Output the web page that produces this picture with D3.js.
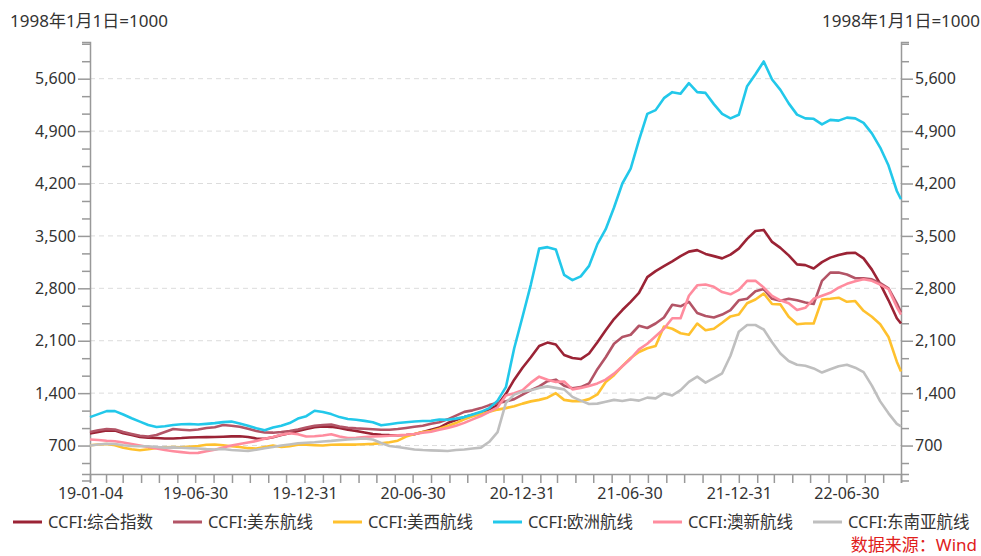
<!DOCTYPE html>
<html>
<head>
<meta charset="utf-8">
<script src="https://cdn.jsdelivr.net/npm/d3@7"></script>
<style>
  body { margin: 0; background: #fff; }
  text { font-family: "Noto Sans", "Noto Sans CJK SC", sans-serif; fill: #333; }
</style>
</head>
<body>
<div id="chart"></div>
<script>
// biweekly readings, 2019-01-04 .. 2022-09-23, plus the last week 2022-09-30
const startDate = new Date(Date.UTC(2019, 0, 4));
const endDate = new Date(Date.UTC(2022, 8, 30));
const dates = d3.range(98).map(i => d3.utcDay.offset(startDate, 14 * i)).concat([endDate]);

const seriesNames = ["CCFI:综合指数", "CCFI:美东航线", "CCFI:美西航线", "CCFI:欧洲航线", "CCFI:澳新航线", "CCFI:东南亚航线"];
const seriesColors = ["#9b2335", "#b35466", "#ffc12e", "#22c8ea", "#ff8c9e", "#bfbfbf"];

const composite = [860,880,900,900,865,840,815,805,800,795, 795,800,808,811,812,815,818,822,825,815,
  795,790,810,840,865,895,920,945,955,950, 935,910,895,875,855,845,840,838,840,850,
  880,910,940,1000,1040,1080,1110,1140,1180,1240, 1390,1580,1740,1880,2030,2075,2050,1910,1870,1855,
  1930,2080,2240,2390,2510,2620,2740,2950,3030,3095, 3160,3230,3290,3310,3260,3230,3200,3250,3330,3460,
  3565,3580,3420,3340,3240,3120,3110,3065,3150,3210, 3245,3270,3275,3200,3050,2860,2640,2400,2330];

const usEast = [880,905,920,915,880,855,830,820,840,880, 920,912,905,915,935,945,975,965,950,925,
  895,875,872,880,895,915,940,965,975,980, 955,938,930,925,918,912,912,920,935,950,
  965,990,1010,1050,1100,1150,1170,1200,1240,1270, 1290,1320,1380,1440,1490,1560,1580,1500,1465,1480,
  1530,1720,1880,2060,2150,2180,2300,2270,2330,2410, 2580,2560,2620,2470,2430,2410,2450,2510,2640,2660,
  2760,2790,2660,2635,2660,2640,2610,2590,2900,3010, 3010,2985,2935,2935,2920,2870,2800,2600,2480];

const usWest = [705,715,720,705,670,650,638,650,668,675, 680,678,685,695,710,715,705,690,680,665,
  660,680,700,680,690,710,712,705,700,710, 713,713,713,718,722,730,745,765,820,855,
  880,895,925,960,1000,1050,1090,1120,1150,1180, 1200,1225,1260,1290,1310,1340,1400,1310,1293,1293,
  1320,1383,1550,1640,1760,1870,1950,2000,2030,2290, 2260,2200,2180,2330,2240,2260,2340,2425,2450,2600,
  2650,2730,2590,2585,2420,2320,2330,2330,2650,2660, 2675,2620,2630,2500,2420,2320,2150,1820,1690];

const europe = [1080,1120,1160,1160,1115,1065,1020,975,948,958, 975,985,988,981,990,1000,1013,1020,995,965,
  930,905,940,965,1000,1060,1092,1165,1148,1120, 1080,1055,1045,1030,1012,970,985,1002,1012,1022,
  1028,1030,1048,1045,1060,1080,1115,1150,1200,1300, 1480,2000,2420,2850,3330,3350,3320,2980,2910,2960,
  3100,3390,3590,3880,4200,4400,4780,5130,5180,5340, 5420,5400,5540,5420,5410,5260,5130,5070,5118,5500,
  5660,5830,5590,5450,5270,5120,5070,5064,4990,5050, 5040,5080,5070,5010,4870,4680,4440,4100,3990];

const ausNz = [780,775,765,758,740,720,700,680,660,640, 625,612,600,602,625,645,675,700,720,740,
  760,790,815,845,865,850,820,825,835,850, 820,800,805,815,820,825,830,838,845,855,
  870,885,910,935,965,1003,1050,1095,1150,1210, 1370,1400,1440,1540,1620,1580,1550,1555,1450,1470,
  1494,1530,1580,1660,1760,1860,1985,2060,2160,2260, 2400,2400,2700,2840,2850,2820,2750,2720,2780,2900,
  2900,2810,2700,2640,2600,2510,2540,2660,2700,2740, 2810,2860,2895,2920,2900,2850,2790,2550,2450];

const seAsia = [700,715,725,720,705,695,690,690,680,672, 675,670,665,660,652,648,655,640,633,628,
  645,665,680,700,715,730,738,745,755,762, 772,780,788,795,780,735,695,680,665,648,
  640,636,632,628,640,648,660,672,750,880, 1270,1380,1420,1440,1470,1490,1470,1450,1350,1300,
  1255,1260,1285,1310,1295,1315,1300,1340,1330,1400, 1370,1440,1550,1620,1540,1600,1665,1900,2220,2310,
  2310,2250,2080,1930,1830,1780,1765,1730,1675,1720, 1760,1780,1740,1680,1500,1290,1130,990,955];

const majorTicks = [700, 1400, 2100, 2800, 3500, 4200, 4900, 5600];
const xLabelDates = ["19-01-04", "19-06-30", "19-12-31", "20-06-30", "20-12-31", "21-06-30", "21-12-31", "22-06-30"];
const unitLabel = "1998年1月1日=1000";
const sourceLabel = "数据来源：Wind";

const series = [composite, usEast, usWest, europe, ausNz, seAsia];

const width = 981, height = 556;
const margin = { left: 90, right: 80, top: 42, bottom: 82 };

const svg = d3.select("#chart").append("svg")
  .attr("width", width)
  .attr("height", height);

const x = d3.scaleUtc()
  .domain([startDate, endDate])
  .range([margin.left, width - margin.right]);

const y = d3.scaleLinear()
  .domain([320, 6090])
  .range([height - margin.bottom, margin.top]);

// minor ticks every third of a major step
const allTicks = d3.range(1, 27).map(i => i * 700 / 3);
const isMajor = v => majorTicks.some(m => Math.abs(m - v) < 1);

// grid
svg.append("g")
  .selectAll("line")
  .data(majorTicks)
  .join("line")
    .attr("x1", x.range()[0])
    .attr("x2", x.range()[1])
    .attr("y1", d => y(d))
    .attr("y2", d => y(d))
    .attr("stroke", "#dcdcdc")
    .attr("stroke-dasharray", "5,4");

const fmt = d3.format(",");

function styleAxis(g, dir) {
  g.select(".domain").attr("stroke", "#999").attr("stroke-width", 1.5);
  g.selectAll(".tick line").attr("stroke", "#999").attr("stroke-width", 1.5);
  g.selectAll(".tick text").style("font-size", "16px").attr("fill", "#333");
  g.selectAll(".tick").filter(d => isMajor(d)).select("line").attr("x2", dir * 12);
}

svg.append("g")
  .attr("transform", `translate(${x.range()[0]},0)`)
  .call(d3.axisLeft(y).tickValues(allTicks).tickSize(8).tickPadding(6)
    .tickFormat(d => isMajor(d) ? fmt(Math.round(d)) : ""))
  .call(g => styleAxis(g, -1));

svg.append("g")
  .attr("transform", `translate(${x.range()[1]},0)`)
  .call(d3.axisRight(y).tickValues(allTicks).tickSize(8).tickPadding(6)
    .tickFormat(d => isMajor(d) ? fmt(Math.round(d)) : ""))
  .call(g => styleAxis(g, 1));

// x axis: ticks at month ends
const monthEnds = d3.utcMonth.range(new Date(Date.UTC(2019, 1, 1)), new Date(Date.UTC(2022, 9, 2)))
  .map(d => d3.utcDay.offset(d, -1));
const xFmt = d3.utcFormat("%y-%m-%d");

svg.append("g")
  .attr("transform", `translate(0,${y.range()[0]})`)
  .call(d3.axisBottom(x).tickValues([startDate].concat(monthEnds)).tickSize(9).tickPadding(5)
    .tickFormat(d => xLabelDates.includes(xFmt(d)) ? xFmt(d) : ""))
  .call(g => {
    g.select(".domain").attr("stroke", "#999").attr("stroke-width", 1.5);
    g.selectAll(".tick line").attr("stroke", "#999").attr("stroke-width", 1.5);
    g.selectAll(".tick text").style("font-size", "16px").attr("fill", "#333");
  });

// lines
const line = d3.line()
  .x((d, i) => x(dates[i]))
  .y(d => y(d));

svg.append("g")
  .selectAll("path")
  .data(series)
  .join("path")
    .attr("fill", "none")
    .attr("stroke", (d, i) => seriesColors[i])
    .attr("stroke-width", 2.6)
    .attr("stroke-linejoin", "round")
    .attr("d", line);

// unit labels
svg.append("text")
  .attr("x", 10).attr("y", 21).attr("dy", "0.35em")
  .style("font-size", "17px")
  .text(unitLabel);

svg.append("text")
  .attr("x", 980).attr("y", 21).attr("dy", "0.35em")
  .attr("text-anchor", "end")
  .style("font-size", "17px")
  .text(unitLabel);

// legend
const legend = svg.append("g")
  .selectAll("g")
  .data(seriesNames)
  .join("g")
    .attr("transform", (d, i) => `translate(${13 + i * 160},522)`);

legend.append("line")
  .attr("x1", 0).attr("x2", 29)
  .attr("stroke", (d, i) => seriesColors[i])
  .attr("stroke-width", 3);

legend.append("text")
  .attr("x", 35).attr("dy", "0.35em")
  .style("font-size", "16.5px")
  .text(d => d);

svg.append("text")
  .attr("x", 977).attr("y", 551)
  .attr("text-anchor", "end")
  .style("font-size", "17px")
  .style("fill", "#e0201b")
  .text(sourceLabel);
</script>
</body>
</html>
